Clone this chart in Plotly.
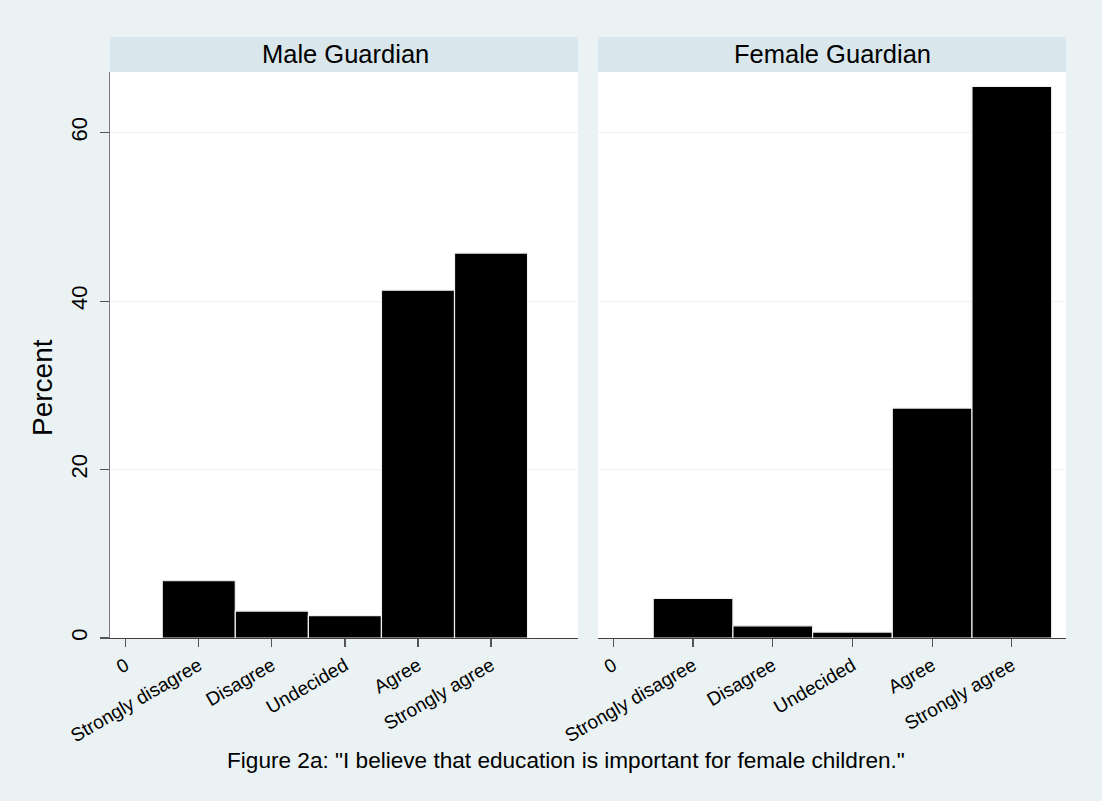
import plotly.graph_objects as go

# ---- data ----
codes = [0, 1, 2, 3, 4, 5]
tick_labels = ["0", "Strongly disagree", "Disagree", "Undecided", "Agree", "Strongly agree"]
bar_codes = [1, 2, 3, 4, 5]
male_pct = [6.8, 3.2, 2.65, 41.3, 45.7]
female_pct = [4.7, 1.45, 0.7, 27.3, 65.5]
panel_titles = ["Male Guardian", "Female Guardian"]
y_ticks = [0, 20, 40, 60]
caption = 'Figure 2a: "I believe that education is important for female children."'
y_title = "Percent"

W, H = 1102, 801
BG = "#EAF2F3"
STRIP = "#D9E6EB"
FONT = "Liberation Sans, Arial, sans-serif"

def px(x):
    return x / W

def py(y):
    return 1 - y / H

fig = go.Figure()
fig.add_trace(go.Bar(x=bar_codes, y=male_pct, width=1, xaxis="x", yaxis="y",
                     marker=dict(color="black", line=dict(color="#f0f0f0", width=1.2)),
                     showlegend=False))
fig.add_trace(go.Bar(x=bar_codes, y=female_pct, width=1, xaxis="x2", yaxis="y2",
                     marker=dict(color="black", line=dict(color="#f0f0f0", width=1.2)),
                     showlegend=False))

ydom = [py(638), py(72)]
xcommon = dict(tickmode="array", tickvals=codes, ticktext=tick_labels, tickangle=-30,
               showline=True, linecolor="#404040", linewidth=1.2, ticks="outside",
               ticklen=8, tickcolor="#555", tickwidth=1.2, showgrid=False, zeroline=False,
               tickfont=dict(family=FONT, size=19, color="black"), automargin=False,
               fixedrange=True)
ycommon = dict(range=[0, 67.2], tickmode="array", tickvals=y_ticks, showgrid=True,
               gridcolor=BG, gridwidth=1, zeroline=False, automargin=False,
               domain=ydom, fixedrange=True)

fig.update_layout(
    width=W, height=H,
    margin=dict(l=0, r=0, t=0, b=0),
    paper_bgcolor=BG, plot_bgcolor="white",
    bargap=0,
    xaxis=dict(domain=[px(110), px(578)], range=[-0.215, 6.19], anchor="y", **xcommon),
    xaxis2=dict(domain=[px(598), px(1066)], range=[-0.193, 5.68], anchor="y2", **xcommon),
    yaxis=dict(anchor="x", showline=True, linecolor="#7a7a7a", linewidth=1.5,
               ticks="outside", ticklen=9, tickcolor="#555", tickwidth=1.2,
               tickangle=-90, showticklabels=True, ticklabelstandoff=4,
               tickfont=dict(family=FONT, size=22, color="black"), **ycommon),
    yaxis2=dict(anchor="x2", showline=False, ticks="", showticklabels=False, **ycommon),
    shapes=[
        dict(type="rect", xref="paper", yref="paper", x0=px(110), x1=px(578),
             y0=py(72), y1=py(37), fillcolor=STRIP, line=dict(width=0), layer="below"),
        dict(type="rect", xref="paper", yref="paper", x0=px(598), x1=px(1066),
             y0=py(72), y1=py(37), fillcolor=STRIP, line=dict(width=0), layer="below"),
    ],
    annotations=[
        dict(text=panel_titles[0], xref="paper", yref="paper", x=px(345), y=py(54),
             showarrow=False, font=dict(family=FONT, size=25.5, color="black"),
             xanchor="center", yanchor="middle"),
        dict(text=panel_titles[1], xref="paper", yref="paper", x=px(832), y=py(54),
             showarrow=False, font=dict(family=FONT, size=25.5, color="black"),
             xanchor="center", yanchor="middle"),
        dict(text=y_title, xref="paper", yref="paper", x=px(42), y=py(388),
             showarrow=False, textangle=-90, font=dict(family=FONT, size=28, color="black"),
             xanchor="center", yanchor="middle"),
        dict(text=caption, xref="paper", yref="paper", x=px(566), y=py(760),
             showarrow=False, font=dict(family=FONT, size=22.6, color="black"),
             xanchor="center", yanchor="middle"),
    ],
)

fig.write_html("out.html", config={"displayModeBar": False, "staticPlot": True})

# remove the default page margin so the figure fills the window exactly
with open("out.html", "r", encoding="utf-8") as f:
    html = f.read()
html = html.replace("<head>", "<head><style>html,body{margin:0;padding:0;overflow:hidden;background:#EAF2F3;}</style>", 1)
with open("out.html", "w", encoding="utf-8") as f:
    f.write(html)
